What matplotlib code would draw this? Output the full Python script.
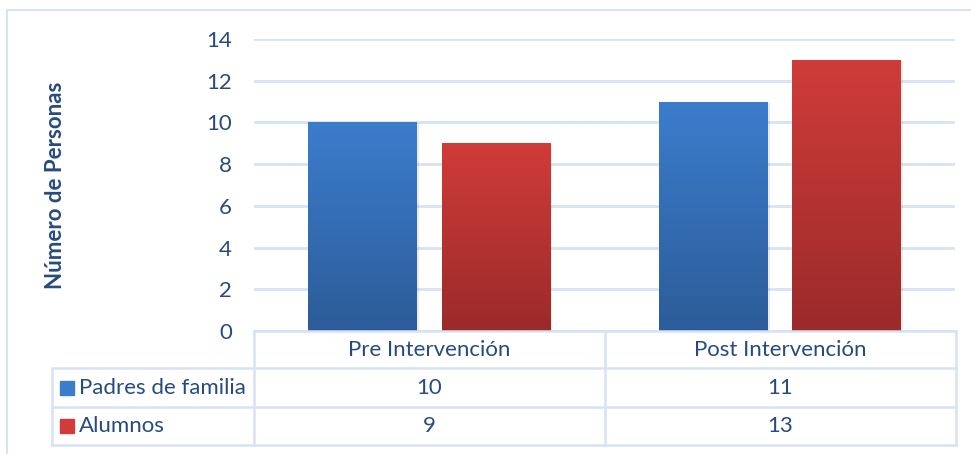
import numpy as np
import matplotlib
matplotlib.use("Agg")
import matplotlib.pyplot as plt
from matplotlib.lines import Line2D
from matplotlib.patches import Rectangle
from matplotlib.colors import LinearSegmentedColormap

categories = ["Pre Intervención", "Post Intervención"]
series_names = ["Padres de familia", "Alumnos"]
padres = [10, 11]
alumnos = [9, 13]
yticks = [0, 2, 4, 6, 8, 10, 12, 14]

plt.rcParams['font.family'] = ['Lato', 'DejaVu Sans']
txt = '#264B7E'
grid_c = '#D7E3F4'
top_cols = ['#3B7DCC', '#CF3C39']
bot_cols = ['#2C5C99', '#9B2A2A']
fs = 16

W, H = 971, 454
fig = plt.figure(figsize=(W / 100, H / 100), dpi=100)

def fx(px):
    return px / W

def fy(py):
    return 1 - py / H

# plot area
ax = fig.add_axes([fx(254), fy(331), fx(955) - fx(254), fy(39) - fy(331)])
ax.set_xlim(-0.5, 1.5)
ax.set_ylim(0, 14)
for s in ax.spines.values():
    s.set_visible(False)
ax.set_yticks(yticks)
ax.tick_params(axis='y', length=0, pad=16, labelsize=fs, labelcolor=txt)
ax.set_xticks([])
ax.yaxis.grid(True, color=grid_c, lw=2)
ax.set_axisbelow(True)

x = np.arange(len(categories))
width = 0.31
off = 0.19
grad = np.linspace(1, 0, 256).reshape(-1, 1)
for i, vals in enumerate([padres, alumnos]):
    xs = x + (-off if i == 0 else off)
    bars = ax.bar(xs, vals, width, color='none', zorder=2)
    cmap = LinearSegmentedColormap.from_list('g%d' % i, [bot_cols[i], top_cols[i]])
    for b in bars:
        x0, w, h = b.get_x(), b.get_width(), b.get_height()
        # soft shadow
        ax.add_patch(Rectangle((x0 + 0.006, 0), w, h - 0.05, color='#000000',
                               alpha=0.08, lw=0, zorder=1.5))
        im = ax.imshow(grad, extent=[x0, x0 + w, 0, h], aspect='auto',
                       cmap=cmap, vmin=0, vmax=1, zorder=2.1)
        im.set_clip_path(b)

fig.text(fx(55), fy(185), "Número de Personas", rotation=90, ha='center', va='center',
         fontsize=16, fontweight='bold', color=txt)

# data table
def hline(x0, x1, y):
    fig.add_artist(Line2D([fx(x0), fx(x1)], [fy(y), fy(y)], color=grid_c, lw=1.8))

def vline(x, y0, y1):
    fig.add_artist(Line2D([fx(x), fx(x)], [fy(y0), fy(y1)], color=grid_c, lw=1.8))

hline(254, 956, 331)
hline(52, 956, 368)
hline(52, 956, 407)
hline(52, 956, 445)
vline(52, 368, 445)
vline(254, 331, 445)
vline(605, 331, 445)
vline(956, 331, 445)

tr = ax.get_xaxis_transform()
row_y = [349.5, 387.5, 426]
for j, c in enumerate(categories):
    ax.text(x[j], (row_y[0] - 331) / (39 - 331), c, transform=tr, ha='center', va='center',
            fontsize=fs, color=txt, clip_on=False)
for i, vals in enumerate([padres, alumnos]):
    yy = fy(row_y[i + 1])
    for j, v in enumerate(vals):
        ax.text(x[j], (row_y[i + 1] - 331) / (39 - 331), str(v), transform=tr,
                ha='center', va='center', fontsize=fs, color=txt, clip_on=False)
    fig.add_artist(Rectangle((fx(60), yy - 7 / H), 14 / W, 14 / H,
                             color=top_cols[i], transform=fig.transFigure))
    fig.text(fx(79), yy, series_names[i], ha='left', va='center', fontsize=fs, color=txt)

# outer chart border
fig.add_artist(Line2D([fx(7), fx(7), 1], [0, fy(10), fy(10)], color=grid_c, lw=1.5))

fig.savefig("out.png", dpi=100)
